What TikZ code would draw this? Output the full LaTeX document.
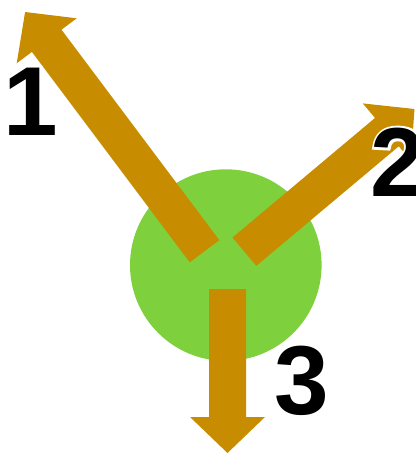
\documentclass[tikz,border=0pt]{standalone}
\usepackage{fontspec}
\setmainfont{Liberation Sans}
\newfontfamily\digitfont{Liberation Sans Bold}
\newfontfamily\halofont[FakeBold=5]{Liberation Sans Bold}
\definecolor{gold}{RGB}{200,140,0}
\definecolor{leaf}{RGB}{126,209,60}
\newcommand{\fatarrow}[4]{%
  \begin{scope}[shift={#1}, rotate=#2]
    \fill[gold] (0,-18.5) -- ({#3-36},-18.5) -- ({#3-36},-37.5) -- (#3,0)
      -- ({#3-36},37.5) -- ({#3-36},18.5) -- (0,18.5) -- cycle;
    \coordinate (#4) at (#3,0);
  \end{scope}}
\newcommand{\haloed}[1]{\leavevmode\rlap{\halofont\color{white}#1}{\digitfont #1}}
\tikzset{
  digit/.style={anchor=base, inner sep=0pt, font=\fontsize{98}{98}\selectfont}
}
\begin{document}
\begin{tikzpicture}[x=1pt, y=-1pt]
  \useasboundingbox (0,0) rectangle (415,454);
  \node[circle, fill=leaf, minimum size=191.6pt, inner sep=0pt] (hub) at (225.8,265.1) {};
  \fatarrow{(204.5,251.2)}{126.87}{299}{tip1}
  \fatarrow{(244.4,251.7)}{40}{222}{tip2}
  \fatarrow{(227.5,289)}{-90}{164}{tip3}
  \node[digit] (l1) at (31,136) {\haloed{1}};
  \node[digit] (l2) at (398,196.5) {\haloed{2}};
  \node[digit] (l3) at (301.5,414) {\haloed{3}};
\end{tikzpicture}
\end{document}
